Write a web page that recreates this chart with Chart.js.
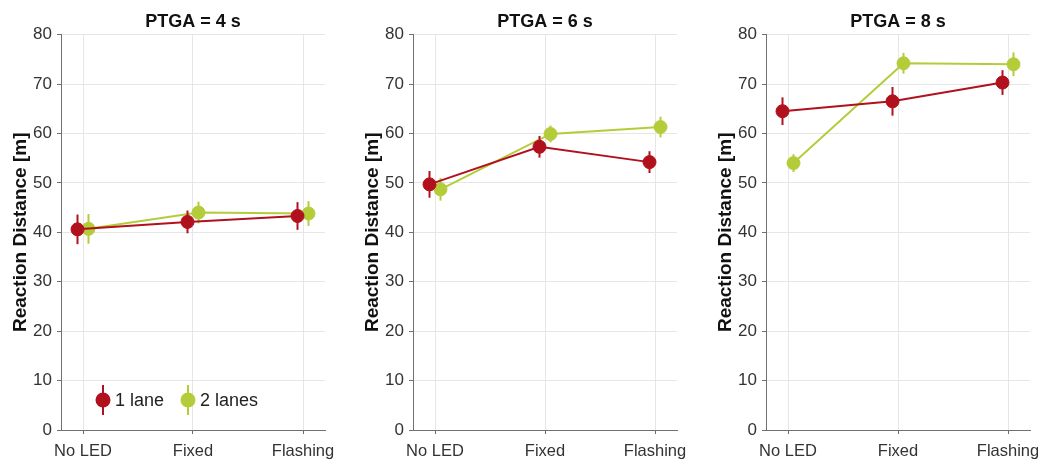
<!DOCTYPE html>
<html>
<head>
<meta charset="utf-8">
<script src="https://cdn.jsdelivr.net/npm/chart.js@4.4.1/dist/chart.umd.min.js"></script>
<style>
  html, body { margin: 0; padding: 0; background: #ffffff; }
  #wrap { position: relative; width: 1038px; height: 459px; overflow: hidden; background: #ffffff; }
  #wrap canvas { position: absolute; left: 0; top: 0; }
</style>
</head>
<body>
<div id="wrap">
  <canvas id="c0" width="1038" height="459"></canvas>
  <canvas id="c1" width="1038" height="459"></canvas>
  <canvas id="c2" width="1038" height="459"></canvas>
</div>
<script>
// ---------- data ----------
const categories = ['No LED', 'Fixed', 'Flashing'];
const panelTitles = ['PTGA = 4 s', 'PTGA = 6 s', 'PTGA = 8 s'];
const seriesNames = ['1 lane', '2 lanes'];
const yTickValues = [0, 10, 20, 30, 40, 50, 60, 70, 80];

// per panel (4 s, 6 s, 8 s), per category (No LED, Fixed, Flashing)
const lane1Mean = [[40.6, 42.1, 43.3], [49.7, 57.3, 54.2], [64.5, 66.5, 70.3]];
const lane1Err  = [[3.0, 2.3, 2.8],   [2.7, 2.2, 2.2],   [2.8, 2.9, 2.5]];
const lane2Mean = [[40.7, 44.0, 43.8], [48.7, 59.9, 61.3], [54.0, 74.2, 74.0]];
const lane2Err  = [[3.0, 2.2, 2.5],   [2.3, 1.7, 2.1],   [1.8, 2.1, 2.4]];

// ---------- styles / layout ----------
const RED = '#B0111C';
const GREEN = '#B5CC3A';
const DODGE = 0.05;
const FONT = "'Liberation Sans', Arial, Helvetica, sans-serif";
const AXIS = '#707070';
const GRID = '#e6e6e6';
const panelPadding = [
  { left: 0,   right: 713, top: 0, bottom: 0 },
  { left: 352, right: 361, top: 0, bottom: 0 },
  { left: 705, right: 8,   top: 0, bottom: 0 }
];

Chart.defaults.font.family = FONT;

const errorBars = {
  id: 'errorBars',
  beforeDatasetDraw(chart, args) {
    const ds = chart.data.datasets[args.index];
    const meta = args.meta;
    const ys = chart.scales.y;
    const ctx = chart.ctx;
    ctx.save();
    ctx.strokeStyle = ds.borderColor;
    ctx.lineWidth = 2;
    ds.data.forEach((p, k) => {
      const e = ds.errors[k];
      const px = meta.data[k].x;
      ctx.beginPath();
      ctx.moveTo(px, ys.getPixelForValue(p.y - e));
      ctx.lineTo(px, ys.getPixelForValue(p.y + e));
      ctx.stroke();
    });
    ctx.restore();
  }
};

const legendInside = {
  id: 'legendInside',
  afterDraw(chart, args, opts) {
    if (!opts.show) return;
    const ctx = chart.ctx;
    const a = chart.chartArea;
    const items = [
      { name: seriesNames[0], color: RED, dx: 42 },
      { name: seriesNames[1], color: GREEN, dx: 127 }
    ];
    const cy = a.bottom - 30;
    ctx.save();
    items.forEach(it => {
      const cx = a.left + it.dx;
      ctx.strokeStyle = it.color;
      ctx.lineWidth = 2;
      ctx.beginPath();
      ctx.moveTo(cx, cy - 15);
      ctx.lineTo(cx, cy + 15);
      ctx.stroke();
      ctx.fillStyle = it.color;
      ctx.beginPath();
      ctx.arc(cx, cy, 7.5, 0, Math.PI * 2);
      ctx.fill();
      ctx.fillStyle = '#222222';
      ctx.font = '18px ' + FONT;
      ctx.textAlign = 'left';
      ctx.textBaseline = 'middle';
      ctx.fillText(it.name, cx + 12, cy + 1);
    });
    ctx.restore();
  }
};

function makeDataset(label, color, means, errs, offset) {
  return {
    label: label,
    data: categories.map((c, j) => ({ x: j + offset, y: means[j] })),
    errors: errs,
    borderColor: color,
    backgroundColor: color,
    pointBackgroundColor: color,
    pointBorderColor: color,
    pointRadius: 6.5,
    pointBorderWidth: 1,
    pointHoverRadius: 6.5,
    borderWidth: 2,
    showLine: true,
    tension: 0,
    clip: false
  };
}

for (let i = 0; i < 3; i++) {
  new Chart(document.getElementById('c' + i), {
    type: 'scatter',
    data: {
      datasets: [
        makeDataset(seriesNames[0], RED, lane1Mean[i], lane1Err[i], -DODGE),
        makeDataset(seriesNames[1], GREEN, lane2Mean[i], lane2Err[i], DODGE)
      ]
    },
    options: {
      responsive: false,
      animation: false,
      devicePixelRatio: 1,
      layout: { padding: panelPadding[i] },
      plugins: {
        legend: { display: false },
        tooltip: { enabled: false },
        title: {
          display: true,
          text: panelTitles[i],
          fullSize: false,
          color: '#111111',
          font: { size: 18, weight: 'bold', family: FONT },
          padding: { top: 11, bottom: 2 }
        },
        legendInside: { show: i === 0 }
      },
      scales: {
        x: {
          type: 'linear',
          min: -0.2,
          max: 2.2,
          afterBuildTicks: (s) => { s.ticks = categories.map((c, j) => ({ value: j })); },
          afterFit: (s) => { s.height = 29; s.paddingLeft = 0; s.paddingRight = 0; },
          ticks: {
            callback: (v) => categories[v] !== undefined ? categories[v] : '',
            color: '#333333',
            font: { size: 16.5, family: FONT },
            padding: 8,
            maxRotation: 0,
            autoSkip: false
          },
          grid: { color: GRID, tickColor: AXIS, tickLength: 4, lineWidth: 1 },
          border: { color: AXIS, width: 1 }
        },
        y: {
          min: 0,
          max: 80,
          afterBuildTicks: (s) => { s.ticks = yTickValues.map(v => ({ value: v })); },
          afterFit: (s) => { s.width = 61; s.paddingTop = 0; s.paddingBottom = 0; },
          ticks: {
            color: '#333333',
            font: { size: 17, family: FONT },
            padding: 5
          },
          grid: { color: GRID, tickColor: AXIS, tickLength: 4, lineWidth: 1 },
          border: { color: AXIS, width: 1 },
          title: {
            display: true,
            text: 'Reaction Distance [m]',
            color: '#111111',
            font: { size: 19, weight: 'bold', family: FONT },
            padding: { top: 9, bottom: 0 }
          }
        }
      }
    },
    plugins: [errorBars, legendInside]
  });
}
</script>
</body>
</html>
